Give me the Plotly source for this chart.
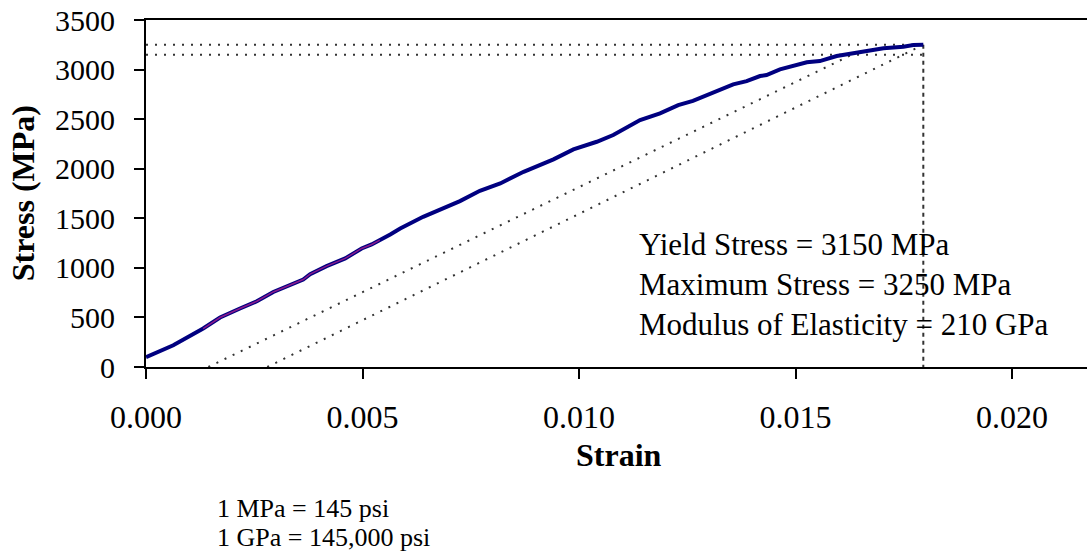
import plotly.graph_objects as go

# ---- data ----
strain = [0.0, 0.00063, 0.00132, 0.00171, 0.00217, 0.00256, 0.00294, 0.00363, 0.00379,
          0.00417, 0.0046, 0.00498, 0.00521, 0.0054, 0.00564, 0.00587, 0.0064, 0.00694,
          0.00725, 0.00771, 0.00818, 0.00872, 0.00941, 0.00987, 0.01041, 0.01079, 0.01118,
          0.01141, 0.01187, 0.01229, 0.01263, 0.01326, 0.01356, 0.01387, 0.01418, 0.01433,
          0.01464, 0.01526, 0.01556, 0.01595, 0.01634, 0.01672, 0.01703, 0.01749, 0.01772,
          0.01795]
stress = [100, 219, 388, 499, 590, 663, 757, 882, 936,
          1017, 1095, 1196, 1236, 1279, 1337, 1397, 1515, 1616,
          1673, 1777, 1851, 1969, 2094, 2195, 2272, 2340, 2431,
          2491, 2558, 2642, 2685, 2793, 2851, 2884, 2935, 2945,
          3002, 3073, 3086, 3137, 3164, 3187, 3214, 3231, 3248,
          3250]

# purple overlay portion of the curve (strain window)
overlay_window = [0.0013, 0.0055]

yield_stress = 3150
max_stress = 3250
strain_at_max = 0.01795

offset1_x = [0.00144, 0.0163]
offset1_y = [0, 3150]
offset2_x = [0.0028, 0.01795]
offset2_y = [0, 3250]

x_tickvals = [0.0, 0.005, 0.010, 0.015, 0.020]
x_ticktext = ["0.000", "0.005", "0.010", "0.015", "0.020"]
y_tickvals = [0, 500, 1000, 1500, 2000, 2500, 3000, 3500]

info_lines = ["Yield Stress = 3150 MPa",
              "Maximum Stress = 3250 MPa",
              "Modulus of Elasticity = 210 GPa"]
note_lines = ["1 MPa = 145 psi", "1 GPa = 145,000 psi"]

FONT = "Liberation Serif, Times New Roman, serif"
DOT = dict(color="#333333", width=2, dash="2px,7px")

fig = go.Figure()

# reference dotted lines
fig.add_trace(go.Scatter(x=[0, strain_at_max], y=[max_stress, max_stress], mode="lines",
                         line=DOT, hoverinfo="skip"))
fig.add_trace(go.Scatter(x=[0, strain_at_max], y=[yield_stress, yield_stress], mode="lines",
                         line=DOT, hoverinfo="skip"))
fig.add_trace(go.Scatter(x=[strain_at_max, strain_at_max], y=[max_stress, 0], mode="lines",
                         line=dict(color="#333333", width=2, dash="4px,4px"), hoverinfo="skip"))
fig.add_trace(go.Scatter(x=offset1_x, y=offset1_y, mode="lines", line=DOT, hoverinfo="skip"))
fig.add_trace(go.Scatter(x=offset2_x, y=offset2_y, mode="lines", line=DOT, hoverinfo="skip"))

# main curve
fig.add_trace(go.Scatter(x=strain, y=stress, mode="lines",
                         line=dict(color="#000080", width=4)))
ov = [(s, v) for s, v in zip(strain, stress) if overlay_window[0] <= s <= overlay_window[1]]
fig.add_trace(go.Scatter(x=[p[0] for p in ov], y=[p[1] for p in ov], mode="lines",
                         line=dict(color="#8B1A8B", width=1.5)))

# info text
info_y = [0.352, 0.237, 0.122]
for txt, yy in zip(info_lines, info_y):
    fig.add_annotation(text=txt, xref="paper", yref="paper", x=0.522, y=yy,
                       xanchor="left", yanchor="middle", showarrow=False,
                       font=dict(family=FONT, size=31, color="black"))

# notes below the chart
note_y = [-0.408, -0.49]
for txt, yy in zip(note_lines, note_y):
    fig.add_annotation(text=txt, xref="paper", yref="paper", x=0.073, y=yy,
                       xanchor="left", yanchor="middle", showarrow=False,
                       font=dict(family=FONT, size=26, color="black"))

# axis titles
fig.add_annotation(text="<b>Strain</b>", xref="paper", yref="paper", x=0.503, y=-0.253,
                   xanchor="center", yanchor="middle", showarrow=False,
                   font=dict(family=FONT, size=32, color="black"))
fig.add_annotation(text="<b>Stress (MPa)</b>", xref="paper", yref="paper", x=-0.131, y=0.5,
                   xanchor="center", yanchor="middle", showarrow=False, textangle=-90,
                   font=dict(family=FONT, size=32, color="black"))

fig.update_layout(
    width=1087, height=554,
    margin=dict(l=146, r=0, t=20, b=187),
    paper_bgcolor="white", plot_bgcolor="white",
    showlegend=False,
    font=dict(family=FONT, color="black"),
    xaxis=dict(range=[0, 0.02173], tickvals=x_tickvals, ticktext=x_ticktext,
               ticks="outside", ticklen=10, tickwidth=1.5, tickcolor="black",
               showline=True, linecolor="black", linewidth=2, mirror=True,
               showgrid=False, zeroline=False, ticklabelstandoff=11,
               tickfont=dict(family=FONT, size=32, color="black")),
    yaxis=dict(range=[0, 3500], tickvals=y_tickvals,
               ticks="outside", ticklen=10, tickwidth=1.5, tickcolor="black",
               showline=True, linecolor="black", linewidth=2,
               showgrid=False, zeroline=False, ticklabelstandoff=13,
               tickfont=dict(family=FONT, size=30, color="black")),
)

fig.write_html("out.html")
